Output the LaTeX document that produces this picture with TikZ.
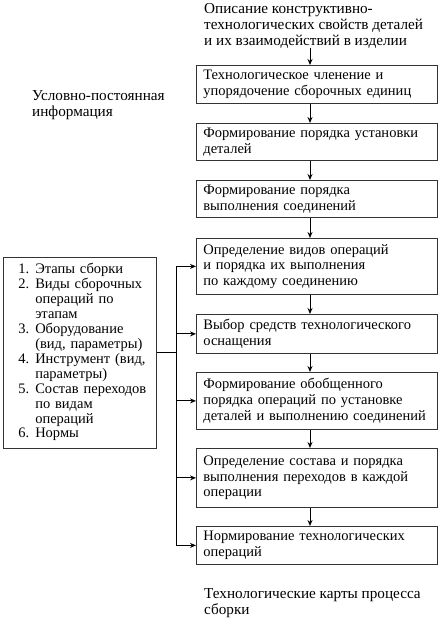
\documentclass[tikz,border=0pt]{standalone}
\usepackage{fontspec}
\setmainfont{Liberation Serif}
\usetikzlibrary{arrows.meta}

\begin{document}
\begin{tikzpicture}[%
  >={Stealth[length=6pt, width=5pt]},
  x=1pt, y=-1pt,
  font=\fontsize{14.5}{15.7}\selectfont,
  stage/.style={draw=black!80, line width=0.8pt, anchor=north west,
    text width=227pt, inner xsep=7pt, inner ysep=0pt, align=left},
  plain/.style={anchor=west, inner sep=0pt, align=left,
    font=\fontsize{15.2}{15.7}\selectfont},
  link/.style={line width=1pt},
]

  \useasboundingbox (0,0) rectangle (441,620);

  \coordinate (ax) at (310,0);
  \coordinate (tr) at (176,0);

  \node[plain] (desc) at (204,26) {Описание конструктивно-\\технологических свойств деталей\\и их взаимодействий в изделии};
  \node[plain] (cond) at (32,105) {Условно-постоянная\\информация};
  \node[plain] (maps) at (204,603) {Технологические карты процесса\\сборки};

  \node[stage, minimum height=38pt] (b1) at (196,65) {Технологическое членение и\\упорядочение сборочных единиц};
  \node[stage, minimum height=37pt] (b2) at (196,123) {Формирование порядка установки\\деталей};
  \node[stage, minimum height=37pt] (b3) at (196,180) {Формирование порядка\\выполнения соединений};
  \node[stage, minimum height=56pt] (b4) at (196,238) {Определение видов операций\\и порядка их выполнения\\по каждому соединению};
  \node[stage, minimum height=39pt] (b5) at (196,314) {Выбор средств технологического\\оснащения};
  \node[stage, minimum height=57pt] (b6) at (196,372) {Формирование обобщенного\\порядка операций по установке\\деталей и выполнению соединений};
  \node[stage, minimum height=59pt] (b7) at (196,448) {Определение состава и порядка\\выполнения переходов в каждой\\операции};
  \node[stage, minimum height=38pt] (b8) at (196,526) {Нормирование технологических\\операций};

  \node[draw=black!80, line width=0.8pt, anchor=north west, minimum height=191pt,
    text width=123pt, inner xsep=15pt, inner ysep=0pt, align=left] (lst) at (3,257) {%
    \renewcommand{\arraystretch}{0.95}%
    \begin{tabular}{@{}l@{\hspace{6pt}}l@{}}
      1. & Этапы сборки\\
      2. & Виды сборочных\\
         & операций по\\
         & этапам\\
      3. & Оборудование\\
         & (вид, параметры)\\
      4. & Инструмент (вид,\\
         & параметры)\\
      5. & Состав переходов\\
         & по видам\\
         & операций\\
      6. & Нормы
    \end{tabular}};

  \draw[->, link] (desc.south -| ax) -- (b1.north -| ax);
  \foreach \a/\b in {b1/b2, b2/b3, b3/b4, b4/b5, b5/b6, b6/b7, b7/b8}
    \draw[->, link] (\a.south -| ax) -- (\b.north -| ax);

  \draw[link] (lst.east) -- (lst.east -| tr);
  \draw[link] (b4.west -| tr) -- (b8.west -| tr);
  \foreach \n in {b4, b5, b6, b7, b8}
    \draw[->, link] (\n.west -| tr) -- (\n.west);

\end{tikzpicture}
\end{document}
